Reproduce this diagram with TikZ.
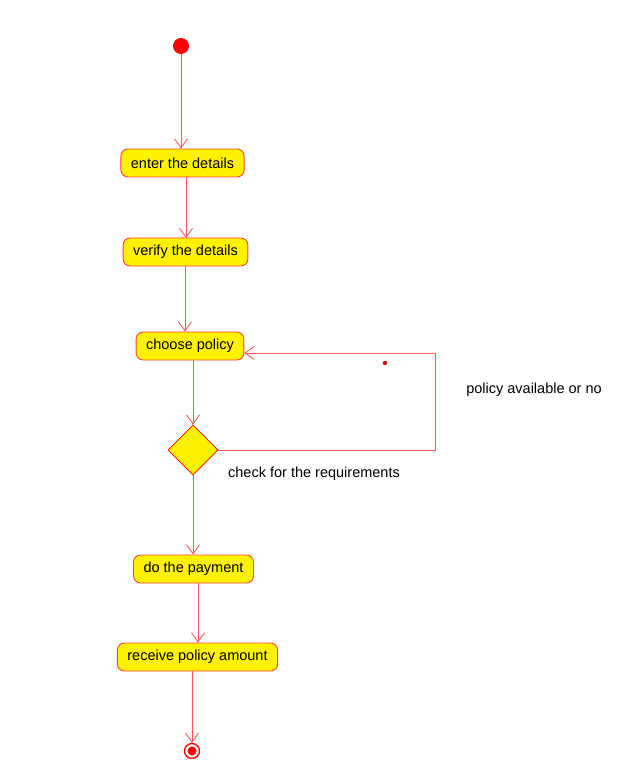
\documentclass[tikz,border=0pt]{standalone}
\usepackage{fontspec}
\setmainfont{Liberation Sans}
\usepackage{tikz}
\usetikzlibrary{shapes.geometric, arrows.meta}
\tikzstyle{activity} = [rectangle, rounded corners=7pt, minimum height=28pt, inner xsep=10pt, text centered, draw=red!75, line width=0.9pt, fill=yellow, font=\fontsize{14.5}{16}\selectfont]
\tikzstyle{decision} = [diamond, minimum width=50pt, minimum height=50pt, inner sep=0pt, draw=red, line width=0.8pt, fill=yellow]
\tikzstyle{arrow} = [red!65, line width=0.9pt, ->, >={Straight Barb[length=9pt,width=13pt]}]
\tikzstyle{note} = [font=\fontsize{14.5}{16}\selectfont]

\begin{document}
\begin{tikzpicture}[x=1pt,y=-1pt]
\useasboundingbox (0,0) rectangle (622,783);

\node (start) [circle, fill=red, minimum size=16pt, inner sep=0pt] at (181,46) {};
\node (pro1) [activity] at (182.5,163) {enter the details};
\node (pro2) [activity] at (185.5,252) {verify the details};
\node (pro3) [activity] at (190,346) {choose policy};
\node (dec1) [decision] at (193,450) {};
\node (pro4) [activity] at (193.5,569) {do the payment};
\node (pro5) [activity] at (197.5,657) {receive policy amount};
\node (stop) [circle, draw=red, line width=1.3pt, fill=white, minimum size=15pt, inner sep=0pt] at (192,751) {};
\fill[red] (stop) circle (4.5);

\coordinate (loop1) at (435,450);
\coordinate (loop2) at (435,353);

\node (lab1) [note] at (534,390) {policy available or no};
\node (lab2) [note] at (314,474) {check for the requirements};
\fill[red!85!black] (385,363) circle (2.2);

\draw [arrow] (start) -- (start |- pro1.north);
\draw [arrow] (pro1.south -| 186,0) -- (186,238);
\draw [arrow] (pro2.south -| 185,0) -- (pro3.north -| 185,0);
\draw [arrow] (pro3.south -| dec1) -- (dec1.north);
\draw [arrow] (dec1.south) -- (pro4.north -| dec1);
\draw [arrow] (pro4.south -| 198,0) -- (pro5.north -| 198,0);
\draw [arrow] (pro5.south -| stop) -- (stop.north);
\draw [arrow] (dec1.east) -- (loop1) -- (loop2) -- (pro3.east |- loop2);

\end{tikzpicture}
\end{document}
